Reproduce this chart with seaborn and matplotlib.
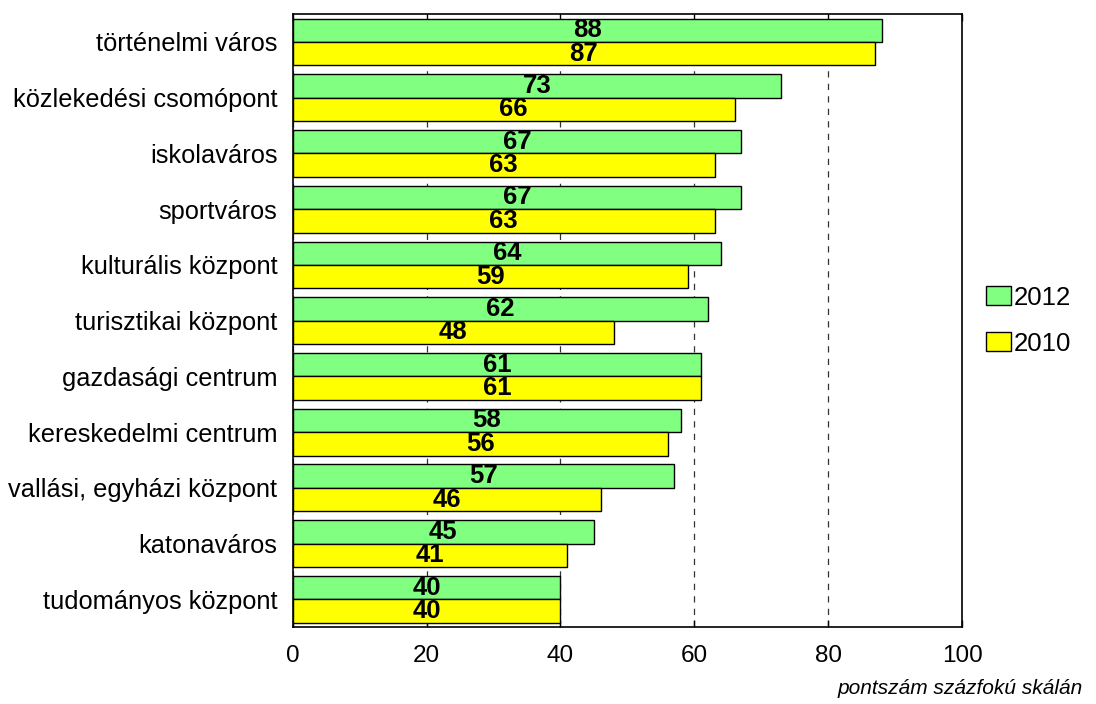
import matplotlib
matplotlib.use("Agg")
import matplotlib.pyplot as plt
import seaborn as sns
import pandas as pd

categories = ["történelmi város", "közlekedési csomópont", "iskolaváros", "sportváros",
              "kulturális központ", "turisztikai központ", "gazdasági centrum",
              "kereskedelmi centrum", "vallási, egyházi központ", "katonaváros",
              "tudományos központ"]
values_2012 = [88, 73, 67, 67, 64, 62, 61, 58, 57, 45, 40]
values_2010 = [87, 66, 63, 63, 59, 48, 61, 56, 46, 41, 40]
series = ["2012", "2010"]
colors = {"2012": "#80FF80", "2010": "#FFFF00"}
xticks = [0, 20, 40, 60, 80, 100]

df = pd.DataFrame({
    "kategoria": categories * 2,
    "ev": ["2012"] * len(categories) + ["2010"] * len(categories),
    "ertek": values_2012 + values_2010,
})

sns.set_theme(style="white")
plt.rcParams["font.family"] = ["Liberation Sans", "DejaVu Sans"]
plt.rcParams["text.color"] = "black"

fig = plt.figure(figsize=(10.96, 7.04), dpi=100)
ax = fig.add_axes([0.267, 0.109, 0.611, 0.871])

sns.barplot(data=df, y="kategoria", x="ertek", hue="ev", hue_order=series,
            order=categories, palette=colors, orient="h", width=0.84,
            edgecolor="black", linewidth=1, saturation=1, ax=ax, zorder=3)

for cont in ax.containers:
    ax.bar_label(cont, label_type="center", fontsize=18.5, fontweight="bold",
                 color="black", zorder=4)

ax.set_xlim(0, 100)
ax.set_xticks(xticks)
ax.set_xticklabels([str(t) for t in xticks], fontsize=17.5, color="black")
ax.tick_params(axis="x", direction="in", length=5, width=1, color="black",
               top=True, bottom=True, pad=13)
ax.tick_params(axis="y", length=0, labelsize=18.3, pad=11, labelcolor="black")
ax.set_xlabel("")
ax.set_ylabel("")
ax.xaxis.grid(True, linestyle=(0, (5, 5)), color="#333333", linewidth=0.9, zorder=0)
ax.set_axisbelow(True)
for s in ax.spines.values():
    s.set_color("black")
    s.set_linewidth(1.2)

handles, labels = ax.get_legend_handles_labels()
leg = ax.legend(handles, labels, loc="center left", bbox_to_anchor=(1.008, 0.5),
                frameon=False, fontsize=18.5, handlelength=1.0, handleheight=0.75,
                handletextpad=0.1, labelspacing=0.85, borderpad=0.2)
for t in leg.get_texts():
    t.set_color("black")

fig.text(0.988, 0.008, "pontszám százfokú skálán", ha="right", va="bottom",
         fontsize=15, style="italic", color="black")

fig.savefig("out.png", dpi=100)
